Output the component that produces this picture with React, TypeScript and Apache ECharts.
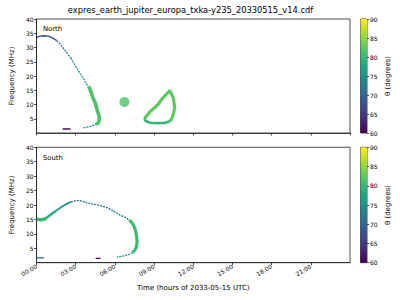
import React, { useEffect, useRef } from "react";
import * as echarts from "echarts";

// ---------- data (time in hours of 2033-05-15, frequency in MHz, θ in degrees) ----------
const TITLE = "expres_earth_jupiter_europa_txka-y235_20330515_v14.cdf";
const X_TICKS_HOURS = [0, 3, 6, 9, 12, 15, 18, 21];
const CBAR_TICKS = [60, 65, 70, 75, 80, 85, 90];

// North panel segments
const northTop = [[0, 33.5], [0.25, 34.0], [0.6, 34.1], [0.9, 34.0], [1.25, 33.3], [1.55, 32.4]];
const northUpper = [[1.55, 32.4], [1.75, 31.5], [2.25, 28.6], [2.63, 26.3]];
const northMid = [[2.63, 26.3], [3.15, 22.2], [3.65, 18.7], [4.02, 15.8]];
const northThick = [[4.0, 16.3], [4.12, 15.0], [4.3, 12.5], [4.5, 10.5], [4.65, 8.0], [4.8, 5.8], [4.8, 4.5], [4.72, 3.5], [4.55, 3.0]];
const northLow = [[3.6, 1.8], [4.2, 2.4], [4.55, 3.0]];
const northFaint = [[2.0, 1.4], [2.6, 1.4]];
const northBlob = [[6.73, 10.9]];
const northLoop = [[8.25, 5.0], [8.7, 7.5], [9.28, 9.9], [9.65, 12.2], [10.2, 14.9], [10.48, 12.2], [10.58, 8.7], [10.42, 5.8], [10.25, 4.2]];
const northLoopBase = [[10.25, 4.2], [9.8, 3.5], [9.28, 3.45], [8.7, 3.6], [8.35, 4.2], [8.25, 5.0]];
const northThetas = [67, 71.5, 75.5, 81.5, 75, 60.5, 81.5, 82.5, 80];

// South panel segments
const southStart = [[0, 15.0], [0.3, 14.9], [0.63, 15.1], [0.75, 15.5]];
const southRise = [[0.75, 15.5], [1.13, 16.8], [1.5, 18.0]];
const southRiseUpper = [[1.5, 18.0], [1.88, 19.2], [2.25, 20.3], [2.63, 21.1]];
const southPeak = [[2.63, 21.1], [3.0, 21.5], [3.38, 21.5], [3.75, 20.9], [4.25, 20.4], [4.9, 19.8], [5.4, 19.1], [5.9, 17.9]];
const southFall = [[5.9, 17.9], [6.4, 16.5], [6.78, 15.7], [7.1, 14.8]];
const southThick = [[7.1, 14.8], [7.35, 13.6], [7.53, 11.9], [7.65, 9.6], [7.7, 7.3], [7.65, 5.5], [7.53, 4.4], [7.35, 3.5]];
const southLow = [[7.35, 3.5], [7.1, 2.9], [6.73, 2.4], [6.15, 1.9]];
const southBlue = [[0, 1.7], [0.58, 1.7]];
const southFaint = [[4.53, 1.5], [4.9, 1.5]];
const southThetas = [80, 79, 76, 71, 74, 80.5, 75, 70, 60.5];

const VIRIDIS = ["#440154", "#482475", "#414487", "#355f8d", "#2a788e", "#21918c", "#22a884", "#44bf70", "#7ad151", "#bddf26", "#fde725"];
const THETA_MIN = 60;
const THETA_MAX = 90;

function hexToRgb(h: string) {
  const n = parseInt(h.slice(1), 16);
  return [(n >> 16) & 255, (n >> 8) & 255, n & 255];
}
function viridis(theta: number) {
  let t = (theta - THETA_MIN) / (THETA_MAX - THETA_MIN);
  t = Math.max(0, Math.min(1, t));
  const p = t * (VIRIDIS.length - 1);
  const i = Math.min(VIRIDIS.length - 2, Math.floor(p));
  const f = p - i;
  const a = hexToRgb(VIRIDIS[i]);
  const b = hexToRgb(VIRIDIS[i + 1]);
  const c = a.map((v, k) => Math.round(v + (b[k] - v) * f));
  return `rgb(${c[0]},${c[1]},${c[2]})`;
}

const FONT = "DejaVu Sans";
const AX = "#222";

export default function App() {
  const ref = useRef<HTMLDivElement>(null);
  useEffect(() => {
    document.body.style.margin = "0";
    const chart = echarts.init(ref.current!, null, { renderer: "svg" });

    const line = (pts: number[][], theta: number, g: number, width: number, dashed = false) => ({
      type: "line",
      xAxisIndex: g,
      yAxisIndex: g,
      data: pts,
      symbol: "none",
      silent: true,
      lineStyle: { color: viridis(theta), width, type: dashed ? [2, 1] : "solid", cap: "butt" },
    });

    const series: any[] = [
      line(northTop, northThetas[0], 0, 1.4),
      line(northUpper, northThetas[1], 0, 1.3, true),
      line(northMid, northThetas[2], 0, 1.3, true),
      line(northThick, northThetas[3], 0, 3.6),
      line(northLow, northThetas[4], 0, 1.3, true),
      line(northFaint, northThetas[5], 0, 1.3),
      {
        type: "scatter",
        xAxisIndex: 0,
        yAxisIndex: 0,
        data: northBlob,
        symbol: "circle",
        symbolSize: 10,
        silent: true,
        itemStyle: { color: viridis(northThetas[6]) },
      },
      line(northLoop, northThetas[7], 0, 3.2),
      line(northLoopBase, northThetas[8], 0, 2.6),

      line(southStart, southThetas[0], 1, 3.4),
      line(southRise, southThetas[1], 1, 2.6),
      line(southRiseUpper, southThetas[2], 1, 1.8),
      line(southPeak, southThetas[3], 1, 1.3, true),
      line(southFall, southThetas[4], 1, 1.4, true),
      line(southThick, southThetas[5], 1, 3.2),
      line(southLow, southThetas[6], 1, 1.3, true),
      line(southBlue, southThetas[7], 1, 1.3),
      line(southFaint, southThetas[8], 1, 1.3),
    ];

    const gradient = () =>
      new echarts.graphic.LinearGradient(
        0, 0, 0, 1,
        VIRIDIS.slice().reverse().map((c, i) => ({ offset: i / (VIRIDIS.length - 1), color: c }))
      );
    [2, 3].forEach((g) => {
      series.push({
        type: "bar", xAxisIndex: g, yAxisIndex: g, stack: "cb" + g, data: [THETA_MIN],
        barWidth: "100%", silent: true, itemStyle: { color: "rgba(0,0,0,0)" },
      });
      series.push({
        type: "bar", xAxisIndex: g, yAxisIndex: g, stack: "cb" + g, data: [THETA_MAX - THETA_MIN],
        barWidth: "100%", silent: true, itemStyle: { color: gradient() },
      });
    });

    const fmtHour = (v: number) => (X_TICKS_HOURS.includes(v) ? String(v).padStart(2, "0") + ":00" : "");

    const mainX = (showLabels: boolean, name: string) => ({
      type: "value",
      min: 0,
      max: 24,
      interval: 3,
      name,
      nameLocation: "middle",
      nameGap: 22,
      nameTextStyle: { fontFamily: FONT, fontSize: 7, color: "#000" },
      axisLine: { show: true, lineStyle: { color: AX, width: 0.8 } },
      axisTick: { show: true, length: 2.5, lineStyle: { color: AX, width: 0.8 } },
      splitLine: { show: false },
      axisLabel: {
        show: showLabels,
        rotate: 30,
        margin: 3,
        fontFamily: FONT,
        fontSize: 6,
        color: "#000",
        showMaxLabel: false,
        formatter: fmtHour,
      },
    });
    const mainY = () => ({
      type: "value",
      min: 0,
      max: 40,
      interval: 5,
      name: "Frequency (MHz)",
      nameLocation: "middle",
      nameGap: 17,
      nameTextStyle: { fontFamily: FONT, fontSize: 7, color: "#000" },
      axisLine: { show: true, lineStyle: { color: AX, width: 0.8 } },
      axisTick: { show: true, length: 2.5, lineStyle: { color: AX, width: 0.8 } },
      splitLine: { show: false },
      axisLabel: { fontFamily: FONT, fontSize: 6, color: "#000", margin: 3, showMinLabel: false },
    });
    const cbX = () => ({ type: "category", data: ["θ"], show: false });
    const cbY = () => ({
      type: "value",
      min: THETA_MIN,
      max: THETA_MAX,
      interval: 5,
      position: "right",
      name: "θ (degrees)",
      nameLocation: "middle",
      nameGap: 17,
      nameRotate: 90,
      nameTextStyle: { fontFamily: FONT, fontSize: 7, color: "#000" },
      axisLine: { show: false },
      axisTick: { show: true, length: 2, lineStyle: { color: AX, width: 0.8 } },
      splitLine: { show: false },
      axisLabel: {
        fontFamily: FONT, fontSize: 6, color: "#000", margin: 3,
        formatter: (v: number) => (CBAR_TICKS.includes(v) ? String(v) : ""),
      },
    });

    chart.setOption({
      animation: false,
      backgroundColor: "#fff",
      grid: [
        { left: 31, top: 19, width: 319, height: 114, show: true, borderColor: AX, borderWidth: 0.8, backgroundColor: "transparent" },
        { left: 31, top: 147.3, width: 319, height: 115.4, show: true, borderColor: AX, borderWidth: 0.8, backgroundColor: "transparent" },
        { left: 360.5, top: 19, width: 6.5, height: 114, show: true, borderColor: AX, borderWidth: 0.8, backgroundColor: "transparent" },
        { left: 360.5, top: 147.3, width: 6.5, height: 115.4, show: true, borderColor: AX, borderWidth: 0.8, backgroundColor: "transparent" },
      ],
      xAxis: [mainX(false, ""), { ...mainX(true, "Time (hours of 2033-05-15 UTC)"), gridIndex: 1 }, { ...cbX(), gridIndex: 2 }, { ...cbX(), gridIndex: 3 }],
      yAxis: [mainY(), { ...mainY(), gridIndex: 1 }, { ...cbY(), gridIndex: 2 }, { ...cbY(), gridIndex: 3 }],
      graphic: [
        { type: "text", x: 190.5, y: 10, style: { text: TITLE, align: "center", verticalAlign: "middle", fontFamily: FONT, fontSize: 8.3, fill: "#000" } },
        { type: "text", x: 43, y: 29.2, style: { text: "North", verticalAlign: "middle", fontFamily: FONT, fontSize: 6.8, fill: "#000" } },
        { type: "text", x: 43, y: 158.3, style: { text: "South", verticalAlign: "middle", fontFamily: FONT, fontSize: 6.8, fill: "#000" } },
      ],
      series,
    });
    return () => chart.dispose();
  }, []);
  return <div ref={ref} style={{ position: "fixed", left: 0, top: 0, width: 400, height: 300 }} />;
}
